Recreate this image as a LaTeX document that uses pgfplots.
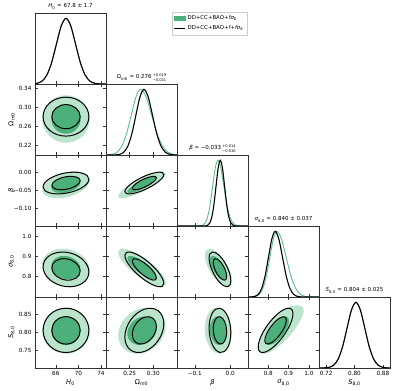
\documentclass[border=0pt]{standalone}
\usepackage{amsmath}
\usepackage{fontspec}
\setmainfont{DejaVu Sans}
\usepackage{pgfplots}
\pgfplotsset{compat=1.18}
\definecolor{gdark}{RGB}{76,176,123}
\definecolor{glight}{RGB}{187,228,205}
\definecolor{gline}{RGB}{92,190,138}
\newcommand{\tlfont}{\fontsize{5.7}{6.5}\selectfont}
\newcommand{\lbfont}{\fontsize{6.7}{7.5}\selectfont}
\newcommand{\ttfont}{\fontsize{5.5}{6.5}\selectfont}
\newcommand{\pmstack}[2]{\hspace{1.2pt}\raisebox{-0.1ex}{\fontsize{3.6}{4.6}\selectfont\begin{tabular}{@{}l@{}}#1\\#2\end{tabular}}}
\pgfplotsset{
 panel/.style={scale only axis, width=71pt, height=71pt, anchor=south west,
   axis line style={draw=black!80, line width=0.6pt},
   tick style={draw=black!80, line width=0.5pt}, major tick length=2.6pt,
   tick align=inside, scaled ticks=false,
   xticklabel=\empty, yticklabel=\empty,
   tick label style={font=\tlfont},
   every axis x label/.style={at={(axis description cs:0.5,-0.21)}, anchor=center, font=\lbfont},
   every axis y label/.style={at={(axis description cs:-0.33,0.5)}, rotate=90, anchor=center, font=\lbfont},
   every axis title shift=0pt,
   title style={font=\ttfont, inner sep=0pt, anchor=base, yshift=5pt},
   clip=true},
 diag/.style={panel, ymin=0, ymax=1.08, ytick=\empty, xtick pos=left},
 xH/.style={xmin=62.3,xmax=74.9,xtick={66,70,74}},
 xO/.style={xmin=0.20,xmax=0.35,xtick={0.25,0.30}},
 xB/.style={xmin=-0.15,xmax=0.05,xtick={-0.1,0}},
 xS/.style={xmin=0.70,xmax=1.05,xtick={0.8,0.9,1.0}},
 xE/.style={xmin=0.70,xmax=0.90,xtick={0.72,0.80,0.88}},
 yO/.style={ymin=0.20,ymax=0.35,ytick={0.22,0.26,0.30,0.34}},
 yB/.style={ymin=-0.15,ymax=0.05,ytick={-0.10,-0.05,0}},
 yS/.style={ymin=0.70,ymax=1.05,ytick={0.8,0.9,1.0}},
 yE/.style={ymin=0.70,ymax=0.90,ytick={0.75,0.80,0.85}},
 ctwo/.style={draw=none, fill=glight, smooth cycle, tension=0.68},
 cone/.style={draw=none, fill=gdark, smooth cycle, tension=0.68},
 kcont/.style={draw=black, line width=1.0pt, fill=none, smooth cycle, tension=0.68},
 gone/.style={draw=gline, line width=0.9pt, smooth, mark=none},
 kone/.style={draw=black, line width=1.1pt, smooth, mark=none},
}
\begin{document}
\begin{tikzpicture}
\path[use as bounding box] (0pt,0pt) rectangle (397pt,391pt);

% ---------- Row 1: H0 1D ----------
\begin{axis}[diag, xH, at={(35pt,307pt)},
  title={{\itshape H}\textsubscript{0} = 67.8 ± 1.7},
  legend cell align=left,
  legend style={at={(1.93,1.014)}, anchor=north west, font=\fontsize{5.4}{6.2}\selectfont,
    draw=black!20, line width=0.4pt, inner sep=1.5pt, row sep=0.5pt}]
\addlegendimage{legend image code/.code={\fill[gdark] (0pt,-2pt) rectangle (11pt,2pt);}}
\addlegendentry{DD+CC+BAO+{\itshape fσ}\textsubscript{8}}
\addlegendimage{legend image code/.code={\draw[black,line width=0.9pt] (0pt,0pt) -- (11pt,0pt);}}
\addlegendentry{DD+CC+BAO+{\itshape f}+{\itshape fσ}\textsubscript{8}}
\addplot[gone, forget plot] coordinates {(62.3,0.005) (62.7,0.0111) (63.55,0.0439) (64.4,0.1353) (65.25,0.3247) (66.1,0.6065) (66.95,0.8825) (67.8,1) (68.65,0.8825) (69.5,0.6065) (70.35,0.3247) (71.2,0.1353) (72.05,0.0439) (72.9,0.0111) (73.75,0.0022) (74.6,0.0003) (74.9,0)};
\addplot[kone, forget plot] coordinates {(62.3,0.005) (62.7,0.0111) (63.55,0.0439) (64.4,0.1353) (65.25,0.3247) (66.1,0.6065) (66.95,0.8825) (67.8,1) (68.65,0.8825) (69.5,0.6065) (70.35,0.3247) (71.2,0.1353) (72.05,0.0439) (72.9,0.0111) (73.75,0.0022) (74.6,0.0003) (74.9,0)};
\end{axis}

% ---------- Row 2 ----------
\begin{axis}[panel, xH, yO, at={(35pt,236pt)}, yticklabels={0.22,0.26,0.30,0.34},
  ylabel={Ω\textsubscript{\itshape m\upshape 0}}]
\addplot[ctwo] coordinates {(72.011,0.276) (70.777,0.3115) (67.8,0.3262) (64.823,0.3115) (63.589,0.276) (64.823,0.2405) (67.8,0.2258) (70.777,0.2405)};
\addplot[cone] coordinates {(70.406,0.276) (69.643,0.2980) (67.8,0.3071) (65.957,0.2980) (65.194,0.276) (65.957,0.2540) (67.8,0.2449) (69.643,0.2540)};
\addplot[kcont] coordinates {(71.864,0.281) (70.673,0.3101) (67.8,0.3221) (64.927,0.3101) (63.736,0.281) (64.927,0.2519) (67.8,0.2399) (70.673,0.2519)};
\addplot[kcont] coordinates {(70.315,0.281) (69.578,0.299) (67.8,0.3065) (66.022,0.299) (65.285,0.281) (66.022,0.263) (67.8,0.2555) (69.578,0.263)};
\end{axis}
\begin{axis}[diag, xO, at={(106pt,236pt)},
  title={Ω\textsubscript{\itshape m\upshape 0} = 0.276\pmstack{+0.019}{−0.021}}]
\addplot[gone] coordinates {(0.20,0.001) (0.2134,0.0111) (0.2234,0.0439) (0.2334,0.1353) (0.2434,0.3247) (0.2534,0.6065) (0.2634,0.8825) (0.2734,1) (0.2849,0.8825) (0.2964,0.6065) (0.3079,0.3247) (0.3194,0.1353) (0.3309,0.0439) (0.3424,0.0111) (0.350,0.0039)};
\addplot[kone] coordinates {(0.20,0) (0.2207,0.0022) (0.2292,0.0111) (0.2377,0.0439) (0.2462,0.1353) (0.2547,0.3247) (0.2632,0.6065) (0.2717,0.8825) (0.2802,1) (0.2892,0.8825) (0.2982,0.6065) (0.3072,0.3247) (0.3162,0.1353) (0.3252,0.0439) (0.3342,0.0111) (0.3432,0.0022) (0.350,0)};
\end{axis}

% ---------- Row 3 ----------
\begin{axis}[panel, xH, yB, at={(35pt,165pt)}, yticklabels={−0.10,−0.05,0.00},
  ylabel={\itshape β}]
\addplot[ctwo] coordinates {(72.011,-0.02072) (70.777,0.00052) (67.8,0.00154) (64.823,-0.01826) (63.589,-0.04728) (64.823,-0.06852) (67.8,-0.06954) (70.777,-0.04974)};
\addplot[cone] coordinates {(70.406,-0.02578) (69.643,-0.01264) (67.8,-0.01201) (65.957,-0.02426) (65.194,-0.04222) (65.957,-0.05536) (67.8,-0.05599) (69.643,-0.04374)};
\addplot[kcont] coordinates {(71.864,-0.01829) (70.673,-0.00116) (67.8,-0.00034) (64.927,-0.0163) (63.736,-0.03971) (64.927,-0.05684) (67.8,-0.05766) (70.673,-0.0417)};
\addplot[kcont] coordinates {(70.315,-0.02237) (69.578,-0.01177) (67.8,-0.01126) (66.022,-0.02114) (65.285,-0.03563) (66.022,-0.04623) (67.8,-0.04674) (69.578,-0.03686)};
\end{axis}
\begin{axis}[panel, xO, yB, at={(106pt,165pt)}]
\addplot[ctwo] coordinates {(0.32618,-0.00175) (0.31148,0.00293) (0.276,-0.01401) (0.24052,-0.04267) (0.22582,-0.06625) (0.24052,-0.07093) (0.276,-0.05399) (0.31148,-0.02533)};
\addplot[cone] coordinates {(0.30706,-0.01404) (0.29796,-0.01114) (0.276,-0.02163) (0.25404,-0.03937) (0.24494,-0.05396) (0.25404,-0.05686) (0.276,-0.04637) (0.29796,-0.02863)};
\addplot[kcont] coordinates {(0.32213,-0.00513) (0.31008,0.00142) (0.281,-0.00985) (0.25192,-0.03234) (0.23987,-0.05287) (0.25192,-0.05942) (0.281,-0.04815) (0.31008,-0.02566)};
\addplot[kcont] coordinates {(0.30645,-0.01423) (0.299,-0.01017) (0.281,-0.01715) (0.263,-0.03106) (0.25555,-0.04377) (0.263,-0.04783) (0.281,-0.04085) (0.299,-0.02694)};
\end{axis}
\begin{axis}[diag, xB, at={(177pt,165pt)},
  title={{\itshape β} = −0.033\pmstack{+0.014}{−0.016}}]
\addplot[gone] coordinates {(-0.15,0) (-0.093,0.0003) (-0.08575,0.0022) (-0.0785,0.0111) (-0.07125,0.0439) (-0.064,0.1353) (-0.05675,0.3247) (-0.0495,0.6065) (-0.04225,0.8825) (-0.035,1) (-0.0265,0.8825) (-0.018,0.6065) (-0.0095,0.3247) (-0.001,0.1353) (0.0075,0.0439) (0.016,0.0111) (0.0245,0.0022) (0.033,0.0003) (0.05,0)};
\addplot[kone] coordinates {(-0.15,0) (-0.076,0.0003) (-0.070,0.0022) (-0.064,0.0111) (-0.058,0.0439) (-0.052,0.1353) (-0.046,0.3247) (-0.040,0.6065) (-0.034,0.8825) (-0.028,1) (-0.022,0.8825) (-0.016,0.6065) (-0.010,0.3247) (-0.004,0.1353) (0.002,0.0439) (0.008,0.0111) (0.014,0.0022) (0.020,0.0003) (0.05,0)};
\end{axis}

% ---------- Row 4 ----------
\begin{axis}[panel, xH, yS, at={(35pt,94pt)}, yticklabels={0.8,0.9,1.0},
  ylabel={{\itshape σ}\textsubscript{8,0}}]
\addplot[ctwo] coordinates {(72.011,0.83105) (70.777,0.90016) (67.8,0.93697) (64.823,0.9199) (63.589,0.85895) (64.823,0.78984) (67.8,0.75303) (70.777,0.7701)};
\addplot[cone] coordinates {(70.406,0.83636) (69.643,0.87914) (67.8,0.90192) (65.957,0.89136) (65.194,0.85364) (65.957,0.81086) (67.8,0.78808) (69.643,0.79864)};
\addplot[kcont] coordinates {(71.864,0.82315) (70.673,0.88681) (67.8,0.92071) (64.927,0.90499) (63.736,0.84885) (64.927,0.78519) (67.8,0.75129) (70.673,0.76701)};
\addplot[kcont] coordinates {(70.315,0.82805) (69.578,0.86745) (67.8,0.88843) (66.022,0.8787) (65.285,0.84395) (66.022,0.80455) (67.8,0.78357) (69.578,0.7933)};
\end{axis}
\begin{axis}[panel, xO, yS, at={(106pt,94pt)}]
\addplot[ctwo] coordinates {(0.32618,0.77058) (0.31148,0.83185) (0.276,0.90081) (0.24052,0.93708) (0.22582,0.91942) (0.24052,0.85815) (0.276,0.78919) (0.31148,0.75292)};
\addplot[cone] coordinates {(0.30706,0.79894) (0.29796,0.83686) (0.276,0.87954) (0.25404,0.90199) (0.24494,0.89106) (0.25404,0.85314) (0.276,0.81046) (0.29796,0.78801)};
\addplot[kcont] coordinates {(0.32213,0.76746) (0.31008,0.82388) (0.281,0.88741) (0.25192,0.92081) (0.23987,0.90454) (0.25192,0.84812) (0.281,0.78459) (0.31008,0.75119)};
\addplot[kcont] coordinates {(0.30645,0.79358) (0.299,0.8285) (0.281,0.86782) (0.263,0.88849) (0.25555,0.87842) (0.263,0.8435) (0.281,0.80418) (0.299,0.78351)};
\end{axis}
\begin{axis}[panel, xB, yS, at={(177pt,94pt)}]
\addplot[ctwo] coordinates {(0.00394,0.78454) (-0.00717,0.85223) (-0.034,0.91569) (-0.06083,0.93774) (-0.07194,0.90546) (-0.06083,0.83777) (-0.034,0.77431) (-0.00717,0.75226)};
\addplot[cone] coordinates {(-0.01052,0.80758) (-0.0174,0.84947) (-0.034,0.88875) (-0.0506,0.9024) (-0.05748,0.88242) (-0.0506,0.84053) (-0.034,0.80125) (-0.0174,0.7876)};
\addplot[kcont] coordinates {(0.0016,0.78031) (-0.00736,0.84266) (-0.029,0.90111) (-0.05064,0.92142) (-0.0596,0.89169) (-0.05064,0.82934) (-0.029,0.77089) (-0.00736,0.75058)};
\addplot[kcont] coordinates {(-0.01006,0.80153) (-0.01561,0.84012) (-0.029,0.8763) (-0.04239,0.88887) (-0.04794,0.87047) (-0.04239,0.83188) (-0.029,0.7957) (-0.01561,0.78313)};
\end{axis}
\begin{axis}[diag, xS, at={(248pt,94pt)},
  title={{\itshape σ}\textsubscript{8,0} = 0.840 ± 0.037}]
\addplot[gone] coordinates {(0.70,0.0001) (0.706,0.0003) (0.723,0.0022) (0.740,0.0111) (0.757,0.0439) (0.774,0.1353) (0.791,0.3247) (0.808,0.6065) (0.825,0.8825) (0.842,1) (0.865,0.8825) (0.888,0.6065) (0.911,0.3247) (0.934,0.1353) (0.957,0.0439) (0.980,0.0111) (1.003,0.0022) (1.026,0.0003) (1.05,0)};
\addplot[kone] coordinates {(0.70,0.0002) (0.7185,0.0022) (0.735,0.0111) (0.7515,0.0439) (0.768,0.1353) (0.7845,0.3247) (0.801,0.6065) (0.8175,0.8825) (0.834,1) (0.852,0.8825) (0.870,0.6065) (0.888,0.3247) (0.906,0.1353) (0.924,0.0439) (0.942,0.0111) (0.960,0.0022) (0.978,0.0003) (1.05,0)};
\end{axis}

% ---------- Row 5 ----------
\begin{axis}[panel, xH, yE, at={(35pt,23pt)}, xticklabels={66,70,74}, yticklabels={0.75,0.80,0.85},
  xlabel={{\itshape H}\textsubscript{0}}, ylabel={{\itshape S}\textsubscript{8,0}}]
\addplot[ctwo] coordinates {(72.011,0.805) (70.777,0.85087) (67.8,0.86987) (64.823,0.85087) (63.589,0.805) (64.823,0.75913) (67.8,0.74013) (70.777,0.75913)};
\addplot[cone] coordinates {(70.406,0.805) (69.643,0.83339) (67.8,0.84515) (65.957,0.83339) (65.194,0.805) (65.957,0.77661) (67.8,0.76485) (69.643,0.77661)};
\addplot[kcont] coordinates {(71.864,0.806) (70.673,0.85014) (67.8,0.86842) (64.927,0.85014) (63.736,0.806) (64.927,0.76186) (67.8,0.74358) (70.673,0.76186)};
\addplot[kcont] coordinates {(70.315,0.806) (69.578,0.83332) (67.8,0.84463) (66.022,0.83332) (65.285,0.806) (66.022,0.77868) (67.8,0.76737) (69.578,0.77868)};
\end{axis}
\begin{axis}[panel, xO, yE, at={(106pt,23pt)}, xticklabels={0.25,0.30},
  xlabel={Ω\textsubscript{\itshape m\upshape 0}}]
\addplot[ctwo] coordinates {(0.32618,0.81797) (0.31148,0.85911) (0.276,0.86856) (0.24052,0.84077) (0.22582,0.79203) (0.24052,0.75089) (0.276,0.74144) (0.31148,0.76923)};
\addplot[cone] coordinates {(0.30706,0.81303) (0.29796,0.83849) (0.276,0.84434) (0.25404,0.82714) (0.24494,0.79697) (0.25404,0.77151) (0.276,0.76566) (0.29796,0.78286)};
\addplot[kcont] coordinates {(0.32213,0.82473) (0.31008,0.86134) (0.281,0.86554) (0.25192,0.83486) (0.23987,0.78727) (0.25192,0.75066) (0.281,0.74646) (0.31008,0.77714)};
\addplot[kcont] coordinates {(0.30645,0.81759) (0.299,0.84025) (0.281,0.84285) (0.263,0.82386) (0.25555,0.79441) (0.263,0.77175) (0.281,0.76915) (0.299,0.78814)};
\end{axis}
\begin{axis}[panel, xB, yE, at={(177pt,23pt)}, xticklabels={−0.1,0.0},
  xlabel={\itshape β}]
\addplot[ctwo] coordinates {(0.00394,0.79851) (-0.00717,0.84606) (-0.034,0.86955) (-0.06083,0.85523) (-0.07194,0.81149) (-0.06083,0.76394) (-0.034,0.74045) (-0.00717,0.75477)};
\addplot[cone] coordinates {(-0.01052,0.80098) (-0.0174,0.83041) (-0.034,0.84495) (-0.0506,0.83609) (-0.05748,0.80902) (-0.0506,0.77959) (-0.034,0.76505) (-0.0174,0.77391)};
\addplot[kcont] coordinates {(0.0016,0.79976) (-0.00736,0.84551) (-0.029,0.86811) (-0.05064,0.85433) (-0.0596,0.81224) (-0.05064,0.76649) (-0.029,0.74389) (-0.00736,0.75767)};
\addplot[kcont] coordinates {(-0.01006,0.80214) (-0.01561,0.83045) (-0.029,0.84444) (-0.04239,0.83591) (-0.04794,0.80986) (-0.04239,0.78155) (-0.029,0.76756) (-0.01561,0.77609)};
\end{axis}
\begin{axis}[panel, xS, yE, at={(248pt,23pt)}, xticklabels={0.8,0.9,1.0},
  xlabel={{\itshape σ}\textsubscript{8,0}}]
\addplot[ctwo] coordinates {(0.975,0.862) (0.925,0.876) (0.845,0.85132) (0.77922,0.80565) (0.75198,0.75959) (0.77922,0.74014) (0.845,0.75868) (0.925,0.80435)};
\addplot[cone] coordinates {(0.90257,0.83311) (0.88571,0.84515) (0.845,0.83367) (0.80429,0.8054) (0.78743,0.77689) (0.80429,0.76485) (0.845,0.77633) (0.88571,0.8046)};
\addplot[kcont] coordinates {(0.92168,0.85282) (0.89658,0.8683) (0.836,0.84728) (0.77542,0.80209) (0.75032,0.75918) (0.77542,0.7437) (0.836,0.76472) (0.89658,0.80991)};
\addplot[kcont] coordinates {(0.88903,0.83497) (0.87349,0.84455) (0.836,0.83155) (0.79851,0.80358) (0.78297,0.77703) (0.79851,0.76745) (0.836,0.78045) (0.87349,0.80842)};
\end{axis}
\begin{axis}[diag, xE, at={(319pt,23pt)}, xticklabels={0.72,0.80,0.88},
  xlabel={{\itshape S}\textsubscript{8,0}},
  title={{\itshape S}\textsubscript{8,0} = 0.804 ± 0.025}]
\addplot[gone] coordinates {(0.70,0.0002) (0.7165,0.0022) (0.729,0.0111) (0.7415,0.0439) (0.754,0.1353) (0.7665,0.3247) (0.779,0.6065) (0.7915,0.8825) (0.804,1) (0.8165,0.8825) (0.829,0.6065) (0.8415,0.3247) (0.854,0.1353) (0.8665,0.0439) (0.879,0.0111) (0.8915,0.0022) (0.90,0.0004)};
\addplot[kone] coordinates {(0.70,0.0002) (0.7165,0.0022) (0.729,0.0111) (0.7415,0.0439) (0.754,0.1353) (0.7665,0.3247) (0.779,0.6065) (0.7915,0.8825) (0.804,1) (0.8165,0.8825) (0.829,0.6065) (0.8415,0.3247) (0.854,0.1353) (0.8665,0.0439) (0.879,0.0111) (0.8915,0.0022) (0.90,0.0004)};
\end{axis}
\end{tikzpicture}
\end{document}
